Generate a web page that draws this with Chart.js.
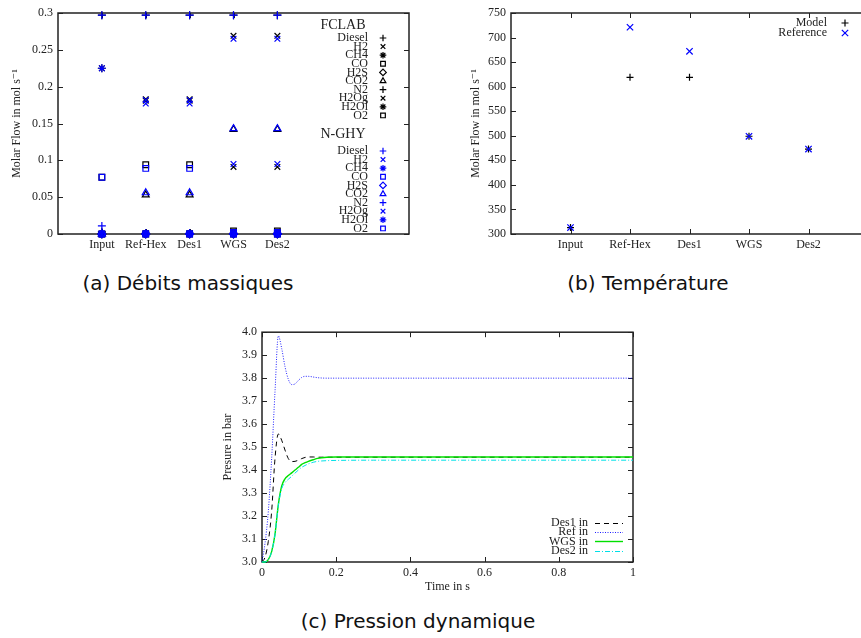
<!DOCTYPE html>
<html>
<head>
<meta charset="utf-8">
<script src="https://cdn.jsdelivr.net/npm/chart.js@4.4.0/dist/chart.umd.min.js"></script>
<style>
  html, body { margin: 0; padding: 0; background: #fff; width: 861px; height: 638px; overflow: hidden; }
  canvas { position: absolute; }
  .legende { position: absolute; font-family: 'DejaVu Sans', sans-serif; font-size: 20px; color: #111;
    transform: translate(-50%, -50%); white-space: nowrap; }
</style>
</head>
<body>
<canvas id="graphDebits" width="420" height="262" style="left:0;top:0"></canvas>
<canvas id="graphTemp" width="440" height="262" style="left:440px;top:0"></canvas>
<canvas id="graphPression" width="450" height="280" style="left:200px;top:320px"></canvas>
<div class="legende" style="left:188px;top:283px">(a) Débits massiques</div>
<div class="legende" style="left:648px;top:283px">(b) Température</div>
<div class="legende" style="left:418px;top:621px">(c) Pression dynamique</div>

<script>
// ---- Données (a) : débits molaires par étape ----
const etapes = ['Input', 'Ref-Hex', 'Des1', 'WGS', 'Des2'];
const especes = ['Diesel', 'H2', 'CH4', 'CO', 'H2S', 'CO2', 'N2', 'H2Og', 'H2Ol', 'O2'];
const groupes = ['FCLAB', 'N-GHY'];

const fclabDiesel = [0.003, 0, 0, 0, 0];
const fclabH2 = [0, 0.183, 0.183, 0.269, 0.269];
const fclabCH4 = [0, 0.001, 0.001, 0.001, 0.001];
const fclabCO = [0, 0.094, 0.094, 0.004, 0.004];
const fclabH2S = [0, 0, 0, 0, 0];
const fclabCO2 = [0, 0.053, 0.053, 0.142, 0.142];
const fclabN2 = [0.297, 0.297, 0.297, 0.297, 0.297];
const fclabH2Og = [0, 0.181, 0.181, 0.091, 0.091];
const fclabH2Ol = [0.225, 0, 0, 0, 0];
const fclabO2 = [0.077, 0, 0, 0, 0];

const nghyDiesel = [0.011, 0, 0, 0, 0];
const nghyH2 = [0, 0.177, 0.177, 0.265, 0.265];
const nghyCH4 = [0, 0.001, 0.001, 0.001, 0.001];
const nghyCO = [0, 0.089, 0.089, 0.002, 0.002];
const nghyH2S = [0, 0, 0, 0, 0];
const nghyCO2 = [0, 0.056, 0.056, 0.143, 0.143];
const nghyN2 = [0.297, 0.297, 0.297, 0.297, 0.297];
const nghyH2Og = [0, 0.182, 0.182, 0.095, 0.095];
const nghyH2Ol = [0.225, 0, 0, 0, 0];
const nghyO2 = [0.077, 0, 0, 0, 0];

// ---- Données (b) : température ----
const seriesTemp = ['Model', 'Reference'];
const tempModel = [313, 619, 619, 499, 473];
const tempReference = [313, 721, 672, 499, 473];

// ---- Données (c) : pression dynamique ----
const seriesPression = ['Des1 in', 'Ref in', 'WGS in', 'Des2 in'];
const temps = [0, 0.008, 0.017, 0.026, 0.035, 0.044, 0.053, 0.062, 0.071, 0.08, 0.089, 0.098,
  0.107, 0.116, 0.125, 0.138, 0.15, 0.175, 0.2, 0.3, 0.5, 0.7, 1.0];
const presDes1 = [3.0, 3.02, 3.09, 3.22, 3.45, 3.557, 3.53, 3.487, 3.45, 3.437, 3.438, 3.443,
  3.45, 3.455, 3.457, 3.457, 3.456, 3.456, 3.456, 3.456, 3.456, 3.456, 3.456];
const presRef = [3.0, 3.08, 3.22, 3.45, 3.74, 3.984, 3.93, 3.85, 3.795, 3.772, 3.775, 3.79,
  3.803, 3.808, 3.808, 3.805, 3.802, 3.8, 3.8, 3.8, 3.8, 3.8, 3.8];
const presWGS = [3.0, 3.0, 3.01, 3.045, 3.12, 3.25, 3.33, 3.362, 3.376, 3.388, 3.4, 3.412,
  3.425, 3.432, 3.438, 3.445, 3.451, 3.456, 3.457, 3.457, 3.457, 3.457, 3.457];
const presDes2 = [3.0, 3.0, 3.01, 3.045, 3.12, 3.245, 3.318, 3.345, 3.36, 3.373, 3.387, 3.4,
  3.412, 3.42, 3.427, 3.434, 3.438, 3.441, 3.442, 3.443, 3.443, 3.443, 3.443];

// ---- Styles communs ----
const serif = '"Liberation Serif", "DejaVu Serif", serif';
const encre = '#222';
const marqueurs = ['cross', 'crossRot', 'star', 'rect', 'rectRot', 'triangle', 'cross', 'crossRot', 'star', 'rect'];
const couleursGroupes = ['#000000', '#0000ff'];

Chart.defaults.animation = false;
Chart.defaults.events = [];
Chart.defaults.plugins.legend.display = false;
Chart.defaults.plugins.tooltip.enabled = false;

/**
 * * Cadre façon gnuplot : bordure + graduations vers l'intérieur sur les 4 côtés
 */
const cadre = {
  id: 'cadre',
  beforeDatasetsDraw(chart) {
    const { ctx, chartArea: a, scales } = chart;
    const L = 5;
    ctx.save();
    ctx.strokeStyle = encre;
    ctx.lineWidth = 1;
    ctx.beginPath();
    scales.x.ticks.forEach((t, i) => {
      const px = Math.round(scales.x.getPixelForTick(i)) + 0.5;
      ctx.moveTo(px, a.bottom); ctx.lineTo(px, a.bottom - L);
      ctx.moveTo(px, a.top); ctx.lineTo(px, a.top + L);
    });
    scales.y.ticks.forEach((t, i) => {
      const py = Math.round(scales.y.getPixelForTick(i)) + 0.5;
      ctx.moveTo(a.left, py); ctx.lineTo(a.left + L, py);
      ctx.moveTo(a.right, py); ctx.lineTo(a.right - L, py);
    });
    ctx.stroke();
    ctx.lineWidth = 1.5;
    ctx.strokeRect(a.left, a.top, a.right - a.left, a.bottom - a.top);
    ctx.restore();
  }
};

function police(taille) {
  return { family: serif, size: taille };
}

function echelleY(min, max, pas, largeur, titre, decalage, format) {
  return {
    type: 'linear', min: min, max: max,
    ticks: { stepSize: pas, color: encre, font: police(12), padding: 5, callback: format },
    grid: { display: false, drawTicks: false },
    border: { display: false },
    title: { display: true, text: titre, color: encre, font: police(12), padding: { top: decalage, bottom: 0 } },
    afterFit: (s) => { s.width = largeur; }
  };
}

function echelleEtapes(max, hauteur) {
  return {
    type: 'linear', min: 0, max: max,
    afterBuildTicks: (s) => { s.ticks = etapes.map((e, i) => ({ value: i + 1 })); },
    ticks: { autoSkip: false, maxRotation: 0, padding: 4, color: encre, font: police(12),
      callback: (v) => etapes[Math.round(v) - 1] },
    grid: { display: false, drawTicks: false },
    border: { display: false },
    afterFit: (s) => { s.height = hauteur; }
  };
}

function versPoints(valeurs) {
  return valeurs.map((v, i) => ({ x: i + 1, y: v }));
}

// ================= (a) Débits =================
const fclab = [fclabDiesel, fclabH2, fclabCH4, fclabCO, fclabH2S, fclabCO2, fclabN2, fclabH2Og, fclabH2Ol, fclabO2];
const nghy = [nghyDiesel, nghyH2, nghyCH4, nghyCO, nghyH2S, nghyCO2, nghyN2, nghyH2Og, nghyH2Ol, nghyO2];

const datasetsDebits = [];
[fclab, nghy].forEach((serie, g) => {
  serie.forEach((valeurs, k) => {
    datasetsDebits.push({
      label: especes[k],
      groupe: g,
      data: versPoints(valeurs),
      pointStyle: marqueurs[k],
      pointRadius: 4,
      borderWidth: 1.2,
      borderColor: couleursGroupes[g],
      backgroundColor: 'rgba(0,0,0,0)',
      showLine: false,
      clip: false,
      order: 100 - datasetsDebits.length
    });
  });
});

// Légende en deux blocs (FCLAB / N-GHY)
const legendeDebits = {
  id: 'legendeDebits',
  afterDraw(chart) {
    const ctx = chart.ctx;
    ctx.save();
    ctx.textBaseline = 'middle';
    [[25, 38], [134, 151]].forEach(([yTitre, y0], g) => {
      ctx.fillStyle = encre;
      ctx.font = '14px ' + serif;
      ctx.textAlign = 'center';
      ctx.fillText(groupes[g], 343, yTitre);
      chart.data.datasets.filter(d => d.groupe === g).forEach((d, k) => {
        const y = y0 + k * 8.6;
        ctx.fillStyle = encre;
        ctx.font = '12px ' + serif;
        ctx.textAlign = 'right';
        ctx.fillText(d.label, 368, y);
        ctx.strokeStyle = d.borderColor;
        ctx.fillStyle = 'rgba(0,0,0,0)';
        ctx.lineWidth = 1.2;
        Chart.helpers.drawPoint(ctx, { pointStyle: d.pointStyle, radius: 3.3, borderWidth: 1.2, rotation: 0 }, 383, y);
      });
    });
    ctx.restore();
  }
};

new Chart(document.getElementById('graphDebits'), {
  type: 'scatter',
  data: { datasets: datasetsDebits },
  options: {
    responsive: false,
    layout: { padding: { left: 0, top: 13, right: 11, bottom: 0 } },
    scales: {
      x: echelleEtapes(8, 28),
      y: echelleY(0, 0.3, 0.05, 58, 'Molar Flow in mol s\u207B\u00B9', 10, (v) => String(+v.toFixed(2)))
    }
  },
  plugins: [cadre, legendeDebits]
});

// ================= (b) Température =================
const styleTemp = [
  { couleur: '#000000', marqueur: 'cross' },
  { couleur: '#0000ff', marqueur: 'crossRot' }
];
const datasetsTemp = [tempModel, tempReference].map((valeurs, k) => ({
  label: seriesTemp[k],
  data: versPoints(valeurs),
  pointStyle: styleTemp[k].marqueur,
  pointRadius: k === 0 ? 3.5 : 4.5,
  borderWidth: 1.2,
  borderColor: styleTemp[k].couleur,
  backgroundColor: 'rgba(0,0,0,0)',
  showLine: false,
  clip: false,
  order: 10 - k
}));

const legendeTemp = {
  id: 'legendeTemp',
  afterDraw(chart) {
    const ctx = chart.ctx;
    const ox = chart.canvas.offsetLeft;
    ctx.save();
    ctx.textBaseline = 'middle';
    chart.data.datasets.forEach((d, k) => {
      const y = 23 + k * 10;
      ctx.fillStyle = encre;
      ctx.font = '12px ' + serif;
      ctx.textAlign = 'right';
      ctx.fillText(d.label, 827 - ox, y);
      ctx.strokeStyle = d.borderColor;
      ctx.fillStyle = 'rgba(0,0,0,0)';
      ctx.lineWidth = 1.2;
      Chart.helpers.drawPoint(ctx, { pointStyle: d.pointStyle, radius: d.pointRadius, borderWidth: 1.2, rotation: 0 }, 845 - ox, y);
    });
    ctx.restore();
  }
};

new Chart(document.getElementById('graphTemp'), {
  type: 'scatter',
  data: { datasets: datasetsTemp },
  options: {
    responsive: false,
    layout: { padding: { left: 0, top: 13, right: 12, bottom: 0 } },
    scales: {
      x: echelleEtapes(6, 28),
      y: echelleY(300, 750, 50, 71, 'Molar Flow in mol s\u207B\u00B9', 29, (v) => String(v))
    }
  },
  plugins: [cadre, legendeTemp]
});

// ================= (c) Pression =================
const stylePression = [
  { couleur: '#000000', tirets: [5, 4], epaisseur: 1 },
  { couleur: '#2020ff', tirets: [1, 1.5], epaisseur: 1 },
  { couleur: '#00e000', tirets: [], epaisseur: 1.4 },
  { couleur: '#00e0e8', tirets: [5, 2, 1, 2], epaisseur: 1 }
];
const pressions = [presDes1, presRef, presWGS, presDes2];

const datasetsPression = pressions.map((valeurs, k) => ({
  label: seriesPression[k],
  data: temps.map((t, i) => ({ x: t, y: valeurs[i] })),
  showLine: true,
  pointRadius: 0,
  borderColor: stylePression[k].couleur,
  borderDash: stylePression[k].tirets,
  borderWidth: stylePression[k].epaisseur,
  cubicInterpolationMode: 'monotone',
  clip: false,
  order: 10 - k
}));

const legendePression = {
  id: 'legendePression',
  afterDraw(chart) {
    const ctx = chart.ctx;
    const ox = chart.canvas.offsetLeft;
    const oy = chart.canvas.offsetTop;
    ctx.save();
    ctx.textBaseline = 'middle';
    chart.data.datasets.forEach((d, k) => {
      const y = 523 + k * 9.2 - oy;
      ctx.fillStyle = encre;
      ctx.font = '12px ' + serif;
      ctx.textAlign = 'right';
      ctx.fillText(d.label, 588 - ox, y);
      ctx.strokeStyle = d.borderColor;
      ctx.lineWidth = d.borderWidth;
      ctx.setLineDash(d.borderDash);
      ctx.beginPath();
      ctx.moveTo(595 - ox, Math.round(y) + 0.5);
      ctx.lineTo(623 - ox, Math.round(y) + 0.5);
      ctx.stroke();
    });
    ctx.restore();
  }
};

new Chart(document.getElementById('graphPression'), {
  type: 'scatter',
  data: { datasets: datasetsPression },
  options: {
    responsive: false,
    layout: { padding: { left: 0, top: 12, right: 17, bottom: 0 } },
    scales: {
      x: {
        type: 'linear', min: 0, max: 1,
        ticks: { stepSize: 0.2, color: encre, font: police(12), padding: 4, maxRotation: 0,
          callback: (v) => String(+v.toFixed(1)) },
        grid: { display: false, drawTicks: false },
        border: { display: false },
        title: { display: true, text: 'Time in s', color: encre, font: police(12), padding: { top: 0, bottom: 6 } },
        afterFit: (s) => { s.height = 38; }
      },
      y: echelleY(3, 4, 0.1, 62, 'Presure in bar', 21, (v) => v.toFixed(1))
    }
  },
  plugins: [cadre, legendePression]
});
</script>
</body>
</html>
